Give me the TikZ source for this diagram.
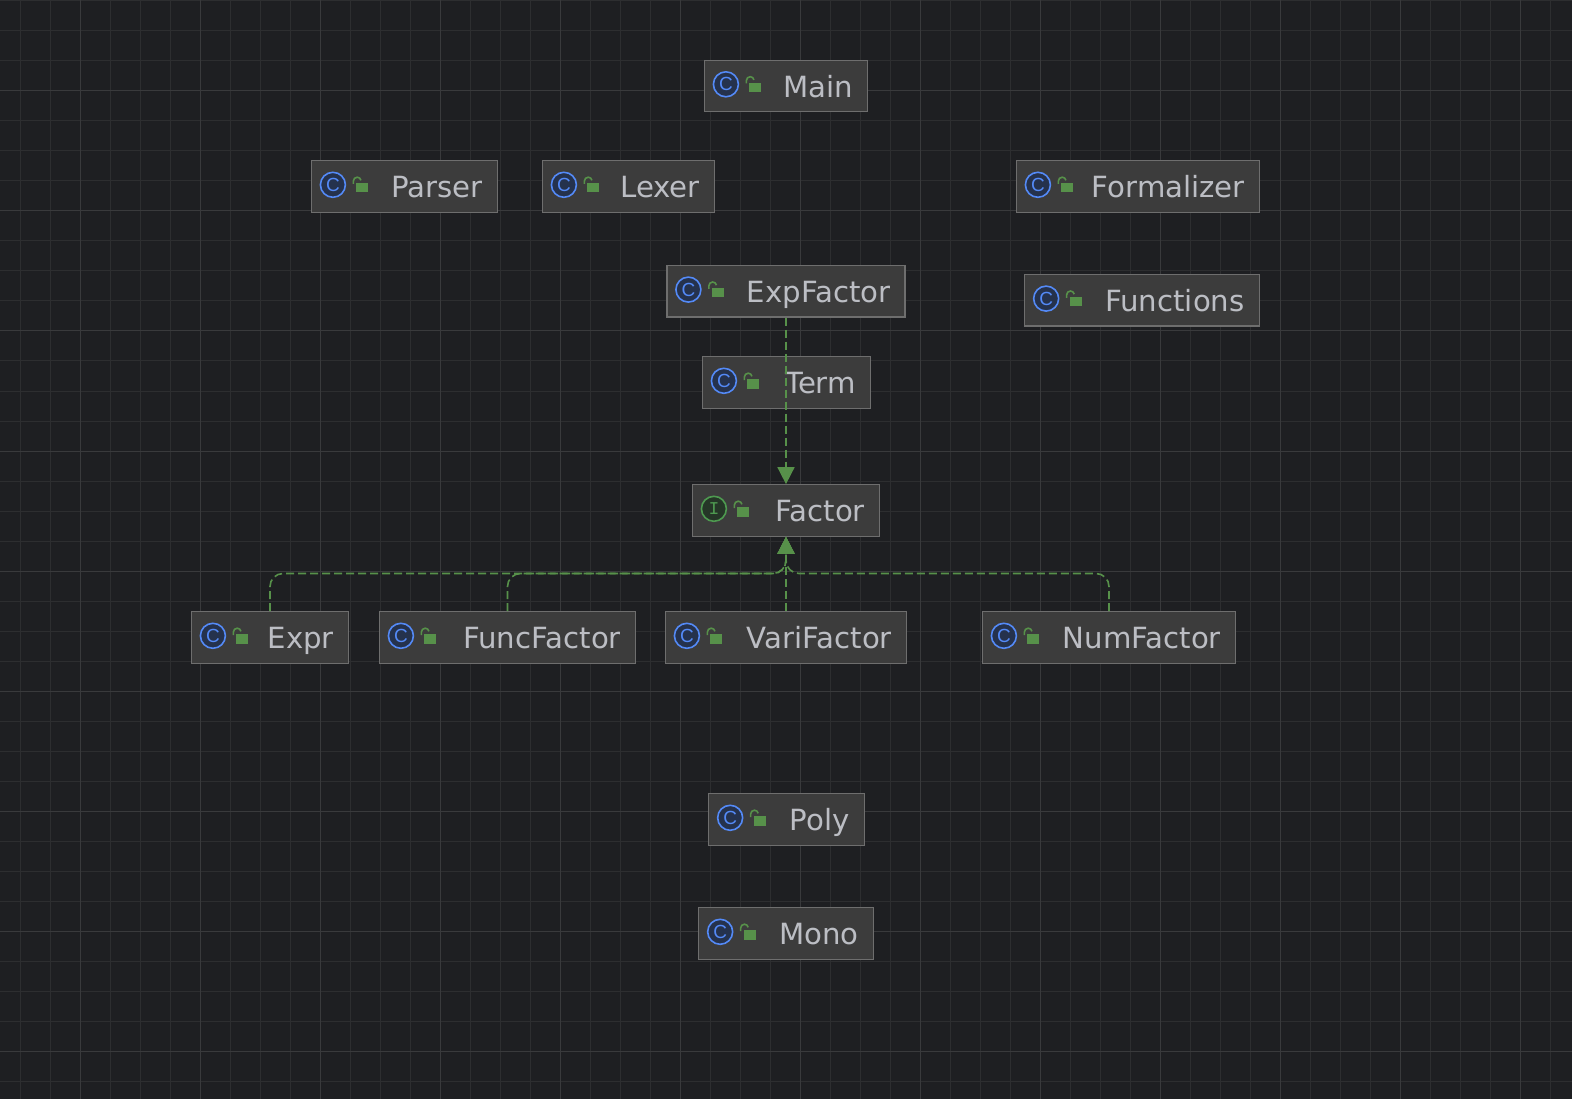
\documentclass[tikz,border=0pt]{standalone}
\usepackage{fontspec}
\setmainfont{DejaVu Sans}
\newfontfamily\iconfont{Liberation Sans}
\newfontfamily\ifacefont{Liberation Mono}
\usetikzlibrary{arrows.meta}

\definecolor{canvasbg}{HTML}{1E1F22}
\definecolor{gridminor}{HTML}{2D2E30}
\definecolor{gridmajor}{HTML}{393A3C}
\definecolor{boxfill}{HTML}{3C3C3C}
\definecolor{boxline}{HTML}{6E6E6E}
\definecolor{labelgray}{HTML}{BCBEC4}
\definecolor{linkgreen}{HTML}{57914A}
\definecolor{classblue}{HTML}{548AF7}
\definecolor{classfill}{HTML}{25324D}
\definecolor{ifacegreen}{HTML}{4E9A50}
\definecolor{ifacefill}{HTML}{253627}

\tikzset{
  classbox/.style={draw=boxline, fill=boxfill, line width=1.2pt, minimum height=51.5pt, inner sep=0pt},
  classlabel/.style={text=labelgray, font=\fontsize{29.2}{30}\selectfont, anchor=base east, inner sep=0pt},
  classicon/.style={circle, draw=classblue, fill=classfill, line width=1.6pt, minimum size=25pt, inner sep=0pt, text=classblue, font=\iconfont\fontsize{19}{19}\selectfont},
  ifaceicon/.style={classicon, draw=ifacegreen, fill=ifacefill, text=ifacegreen, font=\ifacefont\fontsize{18}{18}\selectfont},
  lockbody/.style={fill=linkgreen},
  lockhook/.style={draw=linkgreen, line width=1.6pt},
  realize/.style={draw=linkgreen, line width=1.6pt, dash pattern=on 8pt off 4pt, rounded corners=13pt, -{Triangle[length=17pt,width=17pt]}}
}

% #1 icon style, #2 letter, #3 name, #4 centre, #5 width, #6 label
\newcommand{\classnode}[6]{
  \node[classbox, minimum width=#5pt] (#3) at (#4) {};
  \node[#1] (#3-icon) at ([xshift=22pt,yshift=1.7pt]#3.west) {#2};
  \fill[lockbody] ([xshift=45.5pt,yshift=3.4pt]#3.west) rectangle ([xshift=57.5pt,yshift=-6pt]#3.west);
  \draw[lockhook] ([xshift=42.5pt,yshift=2.5pt]#3.west) -- ++(0,3pt) arc[start angle=180, end angle=10, radius=3.8pt];
  \node[classlabel] (#3-label) at ([xshift=-15pt,yshift=-11.3pt]#3.east) {#6};
}

\begin{document}
\begin{tikzpicture}[x=1pt,y=-1pt]
  \useasboundingbox (0,0) rectangle (1572,1099);
  \fill[canvasbg] (0,0) rectangle (1572,1099);

  % grid
  \foreach \gx in {20,50,...,1570} \draw[gridminor, line width=1pt] (\gx,0) -- (\gx,1099);
  \foreach \gy in {1,31,...,1098} \draw[gridminor, line width=1pt] (0,\gy) -- (1572,\gy);
  \foreach \gx in {80,200,...,1570} \draw[gridmajor, line width=1pt] (\gx,0) -- (\gx,1099);
  \foreach \gy in {91,211,...,1098} \draw[gridmajor, line width=1pt] (0,\gy) -- (1572,\gy);

  \classnode{classicon}{C}{main}{786,86}{163}{Main}
  \classnode{classicon}{C}{parser}{404.5,186.5}{186}{Parser}
  \classnode{classicon}{C}{lexer}{628.5,186.5}{172}{Lexer}
  \classnode{classicon}{C}{formalizer}{1138,186.5}{243}{Formalizer}
  \classnode{classicon}{C}{expfactor}{786,291.3}{238}{ExpFactor}
  \classnode{classicon}{C}{functions}{1142,300.3}{234.5}{Functions}
  \classnode{classicon}{C}{term}{786.5,382.5}{168}{Term}
  \classnode{ifaceicon}{I}{factor}{786,510.5}{187}{Factor}
  \classnode{classicon}{C}{expr}{270,637.5}{157}{Expr}
  \classnode{classicon}{C}{funcfactor}{507.5,637.5}{256}{FuncFactor}
  \classnode{classicon}{C}{varifactor}{786,637.5}{241}{VariFactor}
  \classnode{classicon}{C}{numfactor}{1109,637.5}{253}{NumFactor}
  \classnode{classicon}{C}{poly}{786.5,819.5}{155.5}{Poly}
  \classnode{classicon}{C}{mono}{786,933.5}{174.5}{Mono}

  \coordinate (busjoin) at (factor.south |- 0,573.5);

  \draw[realize] (expfactor.south) -- (factor.north);
  \draw[realize] (varifactor.north) -- (factor.south);
  \draw[realize] (expr.north) |- (busjoin) -- (factor.south);
  \draw[realize] (funcfactor.north) |- (busjoin) -- (factor.south);
  \draw[realize] (numfactor.north) |- (busjoin) -- (factor.south);
\end{tikzpicture}
\end{document}
